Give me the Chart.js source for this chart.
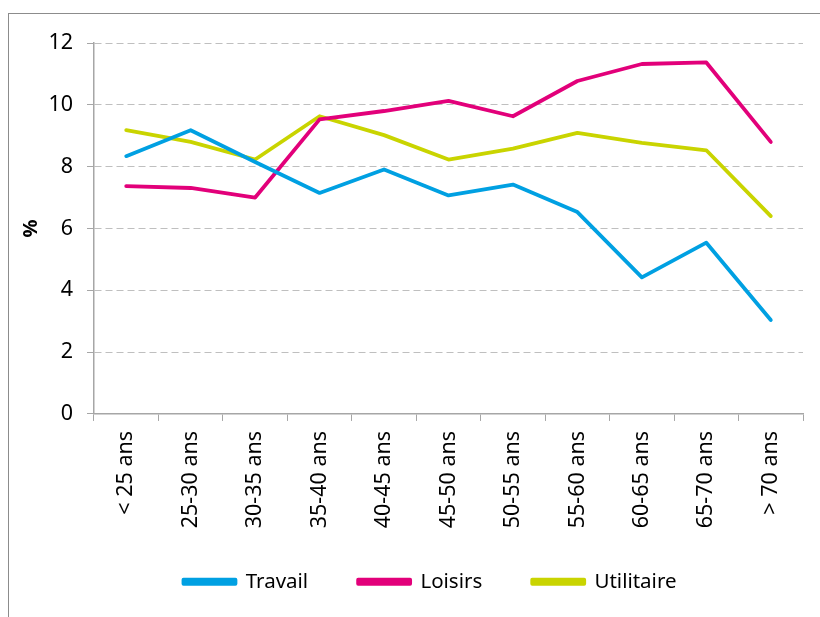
<!DOCTYPE html>
<html>
<head>
<meta charset="utf-8">
<script src="https://cdn.jsdelivr.net/npm/chart.js@4"></script>
<style>
  body { margin:0; background:#fff; overflow:hidden; }
  #frame { position:absolute; left:8px; top:13px; width:900px; height:700px; border:1px solid #8c8c8c; }
  #wrap { position:absolute; left:0; top:0; width:842px; height:588px; }
</style>
</head>
<body>
<div id="frame"><div id="wrap"><canvas id="chart"></canvas></div></div>
<script>
// --- data ---
const categories = ['< 25 ans','25-30 ans','30-35 ans','35-40 ans','40-45 ans','45-50 ans',
                    '50-55 ans','55-60 ans','60-65 ans','65-70 ans','> 70 ans'];
const travail    = [8.34, 9.18, 8.15, 7.15, 7.91, 7.07, 7.42, 6.53, 4.42, 5.54, 3.04];
const loisirs    = [7.37, 7.31, 7.00, 9.53, 9.80, 10.13, 9.63, 10.77, 11.32, 11.37, 8.80];
const utilitaire = [9.18, 8.80, 8.23, 9.63, 9.02, 8.23, 8.58, 9.09, 8.77, 8.53, 6.40];
const seriesNames = ['Travail','Loisirs','Utilitaire'];
const yTicks = [0, 2, 4, 6, 8, 10, 12];

const colors = ['#00a0e2', '#e2007a', '#c9d400'];
const FONT = "'Noto Sans', sans-serif";

function mkSet(label, data, color) {
  return {
    label, data,
    borderColor: color, backgroundColor: color,
    borderWidth: 3.8, pointRadius: 0, tension: 0,
    borderCapStyle: 'round', borderJoinStyle: 'round'
  };
}

new Chart(document.getElementById('chart'), {
  type: 'line',
  data: {
    labels: categories,
    datasets: [
      mkSet(seriesNames[0], travail, colors[0]),
      mkSet(seriesNames[1], loisirs, colors[1]),
      mkSet(seriesNames[2], utilitaire, colors[2])
    ]
  },
  options: {
    responsive: true,
    maintainAspectRatio: false,
    animation: false,
    layout: { padding: { top: 29, bottom: 0, left: 0, right: 0 } },
    plugins: {
      tooltip: { enabled: false },
      legend: {
        position: 'bottom',
        // empty title with negative padding: pulls the legend closer to the axis labels
        title: { display: true, text: '', font: { size: 1 }, padding: { top: -9, bottom: -9 } },
        labels: {
          font: { family: FONT, size: 20.5 },
          color: '#000',
          boxWidth: 52, boxHeight: 4,
          padding: 50
        }
      }
    },
    scales: {
      x: {
        offset: true,
        grid: { offset: true, drawOnChartArea: false, drawTicks: true, tickLength: 7, color: '#a6a6a6' },
        border: { color: '#a6a6a6', width: 1.5 },
        ticks: { font: { family: FONT, size: 21.5 }, color: '#000', maxRotation: 90, minRotation: 90, padding: 10 }
      },
      y: {
        min: 0, max: 12,
        afterBuildTicks: s => { s.ticks = yTicks.map(v => ({ value: v })); },
        afterFit: s => { s.width = 85; },
        grid: { color: '#bfbfbf', lineWidth: 1, tickLength: 7, tickColor: '#a6a6a6' },
        border: { color: '#a6a6a6', width: 1.5, dash: [7, 4] },
        ticks: { font: { family: FONT, size: 21.5 }, color: '#000', padding: 14 },
        title: { display: true, text: '%', font: { family: FONT, size: 20, weight: 'bold' }, color: '#000', padding: { top: 10, bottom: 0 } }
      },
      y2: {
        position: 'right', display: true,
        afterFit: s => { s.width = 48; },
        grid: { display: false }, border: { display: false },
        ticks: { display: false }
      }
    }
  }
});
</script>
</body>
</html>
